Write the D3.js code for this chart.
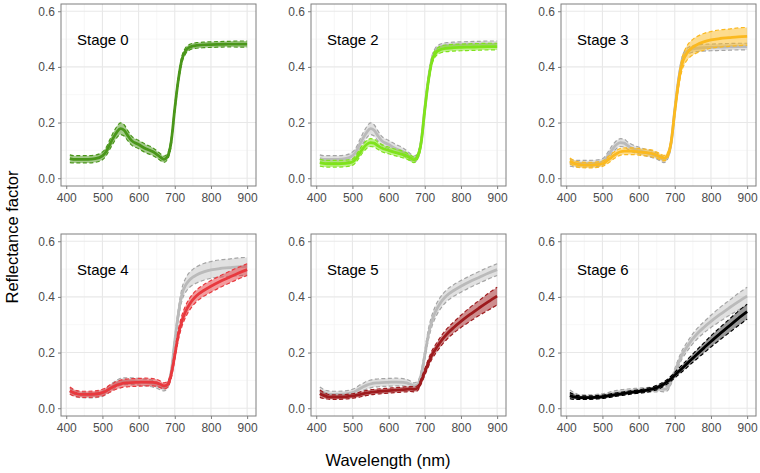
<!DOCTYPE html>
<html><head><meta charset="utf-8">
<script src="https://cdn.jsdelivr.net/npm/d3@7"></script>
<style>body{margin:0;background:#fff;} svg{display:block;font-family:"Liberation Sans",Arial,sans-serif;}</style>
</head><body><svg id="chart" width="760" height="473"></svg>
<script>
const wavelengths = [410,420,430,440,460,480, 500,510,520,530,540,550,560,570,580, 600,620,640,650,660,670,680,690, 700,710,720,730,740,750,760,780, 800,825,850,875,900];

const stageNames = ["Stage 0","Stage 2","Stage 3","Stage 4","Stage 5","Stage 6"];
const stageColors = ["#4a961a","#7fe31b","#fbb91f","#e8393e","#9e1b1e","#000000"];

const stage0Mean = [0.070,0.068,0.068,0.068,0.068,0.070, 0.080,0.095,0.120,0.145,0.166,0.178,0.172,0.153,0.136, 0.121,0.106,0.095,0.086,0.076,0.068,0.078,0.130, 0.250,0.355,0.428,0.458,0.470,0.475,0.477,0.479, 0.480,0.481,0.482,0.482,0.482];
const stage0Sd   = [0.014,0.013,0.013,0.013,0.013,0.013, 0.014,0.015,0.017,0.019,0.020,0.021,0.020,0.018,0.016, 0.015,0.015,0.014,0.013,0.012,0.011,0.011,0.012, 0.012,0.012,0.012,0.011,0.010,0.010,0.010,0.010, 0.010,0.010,0.010,0.011,0.011];

const stage2Mean = [0.056,0.053,0.052,0.052,0.052,0.053, 0.058,0.070,0.090,0.108,0.122,0.128,0.126,0.117,0.109, 0.100,0.092,0.085,0.080,0.073,0.066,0.078,0.128, 0.245,0.350,0.422,0.450,0.460,0.465,0.467,0.469, 0.470,0.471,0.472,0.473,0.473];
const stage2Sd   = [0.013,0.012,0.012,0.012,0.012,0.012, 0.012,0.013,0.014,0.014,0.014,0.014,0.014,0.013,0.013, 0.012,0.012,0.012,0.011,0.011,0.010,0.010,0.012, 0.013,0.013,0.013,0.012,0.012,0.012,0.012,0.012, 0.012,0.012,0.012,0.012,0.012];

const stage3Mean = [0.062,0.055,0.050,0.048,0.047,0.048, 0.052,0.060,0.070,0.080,0.089,0.095,0.097,0.097,0.097, 0.095,0.092,0.088,0.083,0.077,0.072,0.082,0.130, 0.240,0.340,0.410,0.442,0.460,0.471,0.479,0.490, 0.497,0.502,0.505,0.508,0.510];
const stage3Sd   = [0.011,0.010,0.010,0.010,0.010,0.010, 0.010,0.011,0.012,0.012,0.012,0.012,0.012,0.012,0.012, 0.012,0.012,0.012,0.011,0.011,0.010,0.010,0.012, 0.015,0.018,0.022,0.025,0.027,0.028,0.029,0.030, 0.030,0.031,0.031,0.032,0.032];

const stage4Mean = [0.063,0.056,0.052,0.050,0.050,0.051, 0.056,0.062,0.070,0.077,0.083,0.087,0.090,0.091,0.092, 0.093,0.094,0.093,0.091,0.086,0.080,0.085,0.120, 0.190,0.265,0.315,0.348,0.372,0.390,0.404,0.423, 0.438,0.455,0.470,0.485,0.498];
const stage4Sd   = [0.013,0.012,0.011,0.011,0.011,0.011, 0.012,0.012,0.013,0.013,0.014,0.014,0.014,0.014,0.014, 0.014,0.014,0.013,0.013,0.012,0.011,0.011,0.013, 0.016,0.019,0.020,0.021,0.021,0.021,0.021,0.021, 0.021,0.021,0.021,0.021,0.021];

const stage5Mean = [0.052,0.046,0.042,0.040,0.040,0.041, 0.044,0.046,0.049,0.052,0.055,0.057,0.059,0.060,0.061, 0.063,0.065,0.067,0.068,0.069,0.068,0.072,0.097, 0.130,0.163,0.192,0.213,0.232,0.250,0.265,0.290, 0.312,0.337,0.360,0.382,0.403];
const stage5Sd   = [0.013,0.011,0.009,0.008,0.008,0.008, 0.008,0.008,0.009,0.009,0.009,0.009,0.009,0.009,0.009, 0.009,0.009,0.009,0.009,0.009,0.009,0.009,0.010, 0.012,0.014,0.015,0.016,0.017,0.018,0.019,0.020, 0.022,0.025,0.027,0.030,0.032];

const stage6Mean = [0.045,0.041,0.039,0.038,0.038,0.039, 0.041,0.043,0.045,0.047,0.049,0.051,0.053,0.055,0.057, 0.060,0.064,0.070,0.074,0.080,0.087,0.096,0.107, 0.119,0.131,0.143,0.155,0.168,0.180,0.192,0.216, 0.240,0.268,0.295,0.322,0.347];
const stage6Sd   = [0.011,0.009,0.007,0.006,0.006,0.006, 0.006,0.006,0.006,0.006,0.006,0.006,0.006,0.006,0.006, 0.006,0.007,0.007,0.008,0.008,0.008,0.008,0.009, 0.010,0.011,0.012,0.013,0.014,0.015,0.016,0.018, 0.020,0.022,0.024,0.026,0.027];

const xTicks = [400,500,600,700,800,900];
const xMinor = [450,550,650,750,850];
const yTicks = [0,0.2,0.4,0.6];
const yTickLabels = ["0.0","0.2","0.4","0.6"];
const yMinor = [0.1,0.3,0.5];

const means = [stage0Mean,stage2Mean,stage3Mean,stage4Mean,stage5Mean,stage6Mean];
const sds = [stage0Sd,stage2Sd,stage3Sd,stage4Sd,stage5Sd,stage6Sd];
const series = means.map((m,i)=>wavelengths.map((w,j)=>({w, m:m[j], lo:m[j]-sds[i][j], hi:m[j]+sds[i][j]})));

const svg = d3.select("#chart");
const panelX = [61,311,561], panelY = [4,234], pw = 195, ph = 182;
const x = d3.scaleLinear().domain([385.5,924.5]).range([0,pw]);
const y = d3.scaleLinear().domain([-0.028,0.626]).range([ph,0]);

const lineM = d3.line().x(d=>x(d.w)).y(d=>y(d.m)).curve(d3.curveMonotoneX);
const lineLo = d3.line().x(d=>x(d.w)).y(d=>y(d.lo)).curve(d3.curveMonotoneX);
const lineHi = d3.line().x(d=>x(d.w)).y(d=>y(d.hi)).curve(d3.curveMonotoneX);
const band = d3.area().x(d=>x(d.w)).y0(d=>y(d.lo)).y1(d=>y(d.hi)).curve(d3.curveMonotoneX);

function drawSeries(g, data, color, fill, fillOp, dashColor){
  g.append("path").attr("d",band(data)).attr("fill",fill).attr("fill-opacity",fillOp).attr("stroke","none");
  [lineLo,lineHi].forEach(l=>g.append("path").attr("d",l(data)).attr("fill","none")
    .attr("stroke",dashColor).attr("stroke-width",1.2).attr("stroke-dasharray","4,2.5"));
  g.append("path").attr("d",lineM(data)).attr("fill","none").attr("stroke",color).attr("stroke-width",2.8);
}

stageNames.forEach((name,i)=>{
  const px = panelX[i%3], py = panelY[Math.floor(i/3)];
  const g = svg.append("g").attr("transform",`translate(${px},${py})`);
  g.append("rect").attr("width",pw).attr("height",ph).attr("fill","#fff");
  g.append("clipPath").attr("id","clip"+i).append("rect").attr("width",pw).attr("height",ph);
  xMinor.forEach(v=>g.append("line").attr("x1",x(v)).attr("x2",x(v)).attr("y1",0).attr("y2",ph).attr("stroke","#f2f2f2").attr("stroke-width",0.6));
  yMinor.forEach(v=>g.append("line").attr("y1",y(v)).attr("y2",y(v)).attr("x1",0).attr("x2",pw).attr("stroke","#f2f2f2").attr("stroke-width",0.6));
  xTicks.forEach(v=>g.append("line").attr("x1",x(v)).attr("x2",x(v)).attr("y1",0).attr("y2",ph).attr("stroke","#e8e8e8").attr("stroke-width",1.1));
  yTicks.forEach(v=>g.append("line").attr("y1",y(v)).attr("y2",y(v)).attr("x1",0).attr("x2",pw).attr("stroke","#e8e8e8").attr("stroke-width",1.1));
  const inner = g.append("g").attr("clip-path",`url(#clip${i})`);
  if(i>0){
    drawSeries(inner, series[i-1], "#bababa", "#c4c4c4", 0.5, "#a5a5a5");
  }
  drawSeries(inner, series[i], stageColors[i], stageColors[i], i===5?0.4:0.5, stageColors[i]);
  g.append("rect").attr("width",pw).attr("height",ph).attr("fill","none").attr("stroke","#7f7f7f").attr("stroke-width",1);
  const xa = g.append("g").attr("transform",`translate(0,${ph})`)
    .call(d3.axisBottom(x).tickValues(xTicks).tickSize(3).tickPadding(4).tickFormat(d3.format("d")));
  const ya = g.append("g")
    .call(d3.axisLeft(y).tickValues(yTicks).tickSize(3).tickPadding(3).tickFormat((d,k)=>yTickLabels[k]));
  [xa,ya].forEach(a=>{
    a.select(".domain").remove();
    a.selectAll(".tick line").attr("stroke","#7f7f7f");
    a.selectAll(".tick text").attr("fill","#4d4d4d").style("font-size","12px").style("font-family","'Liberation Sans',Arial,sans-serif");
  });
  g.append("text").attr("x",16).attr("y",41).text(name).attr("fill","#000").style("font-size","15px");
});

svg.append("text").attr("transform","translate(18,237) rotate(-90)").attr("text-anchor","middle")
  .style("font-size","16.5px").attr("fill","#000").text("Reflectance factor");
svg.append("text").attr("x",388).attr("y",466).attr("text-anchor","middle")
  .style("font-size","16.5px").attr("fill","#000").text("Wavelength (nm)");
</script></body></html>
